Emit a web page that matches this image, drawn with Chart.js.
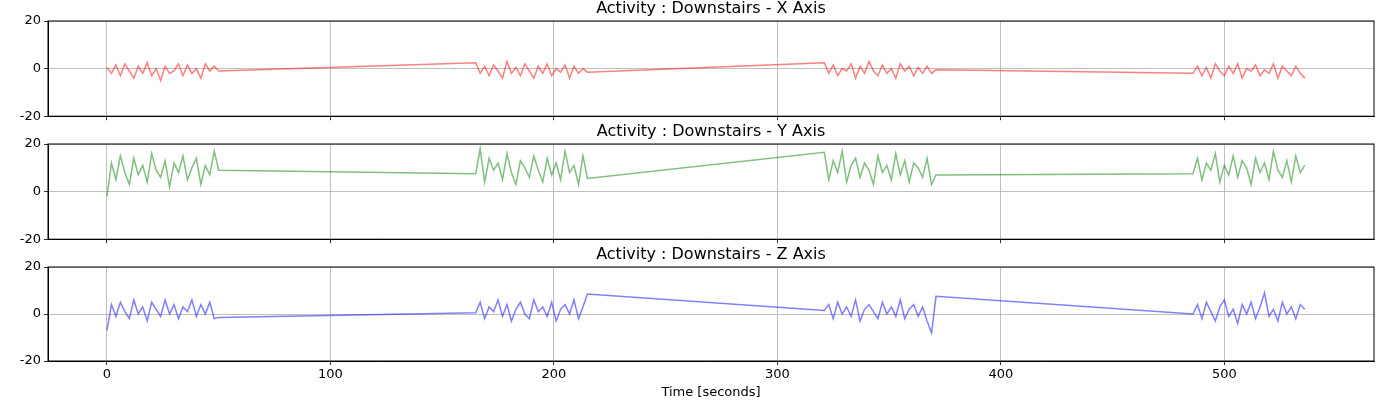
<!DOCTYPE html>
<html>
<head>
<meta charset="utf-8">
<script src="https://cdn.jsdelivr.net/npm/chart.js@4.4.1/dist/chart.umd.min.js"></script>
<style>
  body { margin: 0; background: #fff; }
  .panel { position: absolute; left: 0; width: 1400px; }
</style>
</head>
<body>
<div class="panel" style="top:0;height:127px"><canvas id="cx"></canvas></div>
<div class="panel" style="top:123px;height:127px"><canvas id="cy"></canvas></div>
<div class="panel" style="top:246px;height:154px"><canvas id="cz"></canvas></div>
<script>
// -- Data -----------------------------------------------------------------

const segmentStarts = [0, 165, 321, 486];
const sampleOffsets = [0, 2, 4, 6, 8, 10, 12, 14, 16, 18, 20, 22, 24, 26, 28, 30, 32, 34, 36, 38, 40, 42, 44, 46, 48, 50];
const xTicks = [0, 100, 200, 300, 400, 500];
const yTicks = [-20, 0, 20];

const accX = [
  [0.5, -2, 1.5, -3, 2, -1, -4, 1, -2, 2.5, -3, 0, -5, 1, -2, -1, 2, -3, 1.5, -2, 0, -4, 2, -1, 1, -1],
  [2.5, -2, 1, -3, 1.5, -1, -4, 3, -2, 0.5, -3, 2, -1, -4, 1, -2, 2, -3, 0, -1.5, 1.5, -4, 1, -2, 0, -1.5],
  [2.5, -2, 1.5, -3, 0, -1, 2, -4, 1, -2, 3, -1, -3, 1.5, -2, 0, -4, 2, -1, 1, -3, 0.5, -2, 1, -2, -0.5],
  [-2, 1, -3, 0.5, -4, 2, -1, -3, 1, -2, 2, -4, 0, -1, 1.5, -3, -0.5, -2, 2, -4, 1, -1, -3, 1, -2, -4],
];
const accY = [
  [-2, 12, 5, 15, 8, 3, 14, 7, 11, 4, 16, 9, 6, 13, 2, 12, 8, 15, 5, 10, 14, 3, 11, 7, 17, 9],
  [7.5, 18, 4, 14, 9, 12, 5, 16, 8, 3, 13, 10, 6, 15, 9, 4, 14, 7, 12, 5, 17, 8, 11, 3, 15, 5.5],
  [16.5, 5, 13, 8, 17, 4, 11, 14, 6, 12, 9, 3, 15, 8, 11, 5, 16, 7, 13, 4, 12, 10, 6, 14, 3, 7],
  [7.5, 14, 5, 12, 9, 16, 4, 11, 7, 15, 6, 13, 10, 3, 14, 8, 12, 5, 17, 9, 6, 13, 4, 15, 8, 11],
];
const accZ = [
  [-7, 4, -1, 5, 1, -2, 6, 0, 3, -3, 5, 2, -1, 6, 0, 4, -2, 3, 1, 6, -1, 4, 0, 5, -2, -1.5],
  [0.5, 5, -2, 3, 1, 6, -1, 4, -3, 2, 5, 0, -2, 6, 1, 3, -1, 5, -3, 2, 4, 0, 6, -2, 3, 8.5],
  [1.5, 4, -2, 5, 0, 3, -1, 6, -3, 2, 4, 1, -2, 5, 0, 3, -1, 6, -2, 2, 4, -1, 3, -3, -8, 7.5],
  [0, 4, -2, 5, 1, -3, 3, 6, -1, 2, -4, 4, 0, 5, -2, 3, 9, -1, 2, -3, 5, 0, 3, -2, 4, 2],
];

// -- Helpers --------------------------------------------------------------

function toPoints(segments) {
  const pts = [];
  segments.forEach((vals, s) => {
    vals.forEach((v, i) => pts.push({ x: segmentStarts[s] + sampleOffsets[i], y: v }));
  });
  return pts;
}

const framePlugin = {
  id: 'frame',
  afterDraw(chart) {
    const { ctx, chartArea: a } = chart;
    ctx.save();
    ctx.strokeStyle = '#000';
    ctx.lineWidth = 1;
    ctx.strokeRect(a.left, a.top, a.right - a.left, a.bottom - a.top);
    ctx.fillStyle = '#000';
    ctx.font = '16px "DejaVu Sans"';
    ctx.textAlign = 'center';
    ctx.textBaseline = 'bottom';
    ctx.fillText(chart.options.plugins.frame.title, (a.left + a.right) / 2, a.top - 4);
    ctx.restore();
  },
};

function makePanel(canvasId, title, segments, color, showX) {
  return new Chart(document.getElementById(canvasId), {
    type: 'line',
    data: {
      datasets: [{
        data: toPoints(segments),
        borderColor: color,
        borderWidth: 1.5,
        pointRadius: 0,
        tension: 0,
      }],
    },
    options: {
      animation: false,
      responsive: true,
      maintainAspectRatio: false,
      layout: { padding: { top: 21, right: 26, left: 0, bottom: 0 } },
      plugins: { legend: { display: false }, tooltip: { enabled: false }, frame: { title } },
      scales: {
        x: {
          type: 'linear',
          min: -26.4,
          max: 567,
          afterBuildTicks: (s) => { s.ticks = xTicks.map((v) => ({ value: v })); },
          afterFit: (s) => { s.height = showX ? 39 : 5; },
          grid: { color: '#b0b0b0', lineWidth: 0.8, tickColor: '#000', tickLength: 4 },
          border: { color: '#000' },
          ticks: { display: showX, color: '#000', font: { size: 13, family: 'DejaVu Sans' }, maxRotation: 0, padding: 2 },
          title: { display: showX, text: 'Time [seconds]', color: '#000', font: { size: 13, family: 'DejaVu Sans' }, padding: { top: 2, bottom: 0 } },
        },
        y: {
          min: -20,
          max: 20,
          afterBuildTicks: (s) => { s.ticks = yTicks.map((v) => ({ value: v })); },
          afterFit: (s) => { s.width = 48; },
          grid: { color: '#b0b0b0', lineWidth: 0.8, tickColor: '#000', tickLength: 4 },
          border: { color: '#000' },
          ticks: { color: '#000', font: { size: 13, family: 'DejaVu Sans' }, padding: 3 },
        },
      },
    },
    plugins: [framePlugin],
  });
}

makePanel('cx', 'Activity : Downstairs - X Axis', accX, 'rgba(255,0,0,0.5)', false);
makePanel('cy', 'Activity : Downstairs - Y Axis', accY, 'rgba(0,128,0,0.5)', false);
makePanel('cz', 'Activity : Downstairs - Z Axis', accZ, 'rgba(0,0,255,0.5)', true);
</script>
</body>
</html>
